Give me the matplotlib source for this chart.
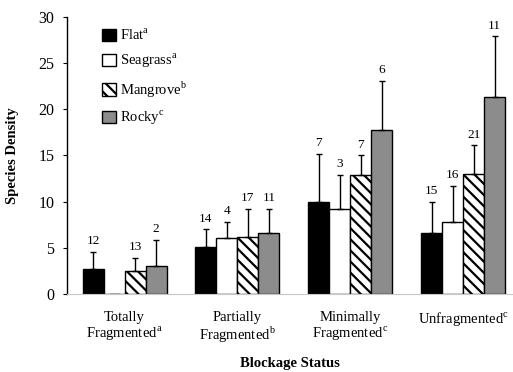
import matplotlib.pyplot as plt
import numpy as np

plt.rcParams['font.family'] = ['Liberation Serif', 'DejaVu Serif']
plt.rcParams['mathtext.fontset'] = 'custom'
plt.rcParams['mathtext.rm'] = 'Liberation Serif'
plt.rcParams['hatch.linewidth'] = 1.6

groups = ["Totally\nFragmented$^{\\mathrm{a}}$", "Partially\nFragmented$^{\\mathrm{b}}$",
          "Minimally\nFragmented$^{\\mathrm{c}}$", "Unfragmented$^{\\mathrm{c}}$"]
habitats = ["Flat$^{\\mathrm{a}}$", "Seagrass$^{\\mathrm{a}}$",
            "Mangrove$^{\\mathrm{b}}$", "Rocky$^{\\mathrm{c}}$"]

# mean species density per habitat, one value per blockage group
flat = [2.7, 5.1, 10.0, 6.6]
seagrass = [0.0, 6.05, 9.2, 7.8]
mangrove = [2.5, 6.2, 12.9, 13.0]
rocky = [3.0, 6.6, 17.8, 21.3]

# upper error (SE)
flat_err = [1.85, 1.9, 5.2, 3.4]
seagrass_err = [0.0, 1.75, 3.7, 3.9]
mangrove_err = [1.4, 3.0, 2.1, 3.1]
rocky_err = [2.85, 2.6, 5.3, 6.6]

# sample sizes printed above the bars (None = no label)
flat_n = ["12", "14", "7", "15"]
seagrass_n = [None, "4", "3", "16"]
mangrove_n = ["13", "17", "7", "21"]
rocky_n = ["2", "11", "6", "11"]

series = [
    (flat, flat_err, flat_n, dict(color="black")),
    (seagrass, seagrass_err, seagrass_n, dict(color="white")),
    (mangrove, mangrove_err, mangrove_n, dict(color="white", hatch="\\\\\\")),
    (rocky, rocky_err, rocky_n, dict(color="#8c8c8c")),
]

fig = plt.figure(figsize=(5.13, 3.72), dpi=100)
ax = fig.add_axes([0.1306, 0.2097, 0.869, 0.7446])

x = np.arange(len(groups))
w = 0.186
for i, (vals, errs, ns, style) in enumerate(series):
    pos = x + (i - 1.5) * w
    ax.bar(pos, vals, w, edgecolor="black", linewidth=1.0,
           label=habitats[i], **style)
    for p, v, e, n in zip(pos, vals, errs, ns):
        if e > 0:
            ax.errorbar(p, v, yerr=[[0], [e]], fmt="none", ecolor="black",
                        elinewidth=1.0, capsize=2.5, capthick=1.0)
        if n is not None:
            ax.text(p, v + e + 0.5, n, ha="center", va="bottom", fontsize=9.5)

# empty seagrass bar shows as a short dash on the baseline
ax.plot([x[0] - 0.5 * w - 0.04, x[0] - 0.5 * w + 0.04], [0.05, 0.05],
        color="black", linewidth=1.0)

ax.set_ylim(0, 30)
ax.set_xlim(-0.51, 3.44)
ax.set_yticks(range(0, 31, 5))
ax.set_xticks(x)
ax.set_xticklabels(groups, fontsize=10.5, linespacing=1.1)
ax.tick_params(axis="x", length=0, pad=12)
ax.tick_params(axis="y", length=3, labelsize=11.5, pad=6)

ax.spines["top"].set_visible(False)
ax.spines["right"].set_visible(False)
ax.spines["bottom"].set_color("#c8c8c8")
ax.spines["left"].set_linewidth(1.0)

ax.set_ylabel("Species Density", fontsize=10.5, fontweight="bold", labelpad=14)
ax.set_xlabel("Blockage Status", fontsize=10.5, fontweight="bold", labelpad=8)

ax.legend(loc="upper left", bbox_to_anchor=(0.05, 1.01), frameon=False,
          fontsize=10.5, handlelength=0.9, handleheight=0.9,
          handletextpad=0.3, labelspacing=0.62)

fig.savefig("out.png", dpi=100)
